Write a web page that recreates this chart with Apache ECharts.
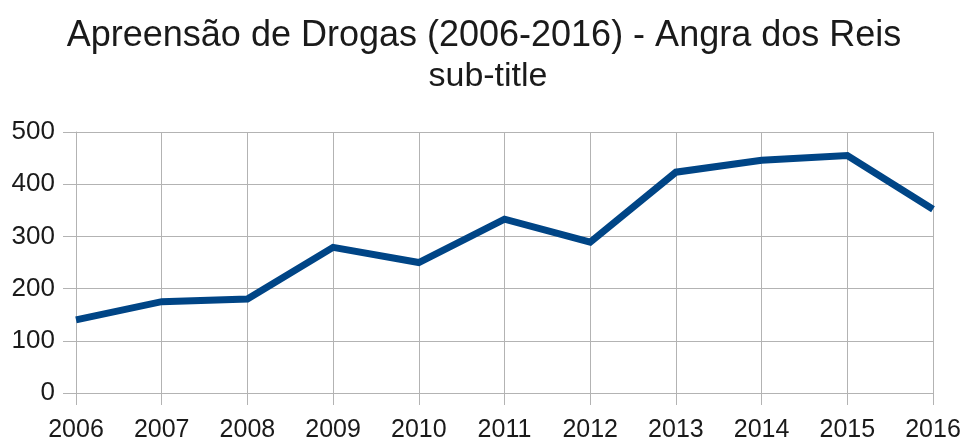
<!DOCTYPE html>
<html>
<head>
<meta charset="utf-8">
<script src="https://cdn.jsdelivr.net/npm/echarts@6/dist/echarts.min.js"></script>
<style>html,body{margin:0;padding:0;background:#fff}#c{width:968px;height:445px}</style>
</head>
<body>
<div id="c"></div>
<script>
var years = ['2006','2007','2008','2009','2010','2011','2012','2013','2014','2015','2016'];
var seizures = [140, 175, 180, 279, 250, 333, 289, 423, 446, 455, 352];
var yTicks = {min: 0, max: 500, interval: 100};
var titleText = 'Apreensão de Drogas (2006-2016) - Angra dos Reis';
var subtitleText = 'sub-title';

var chart = echarts.init(document.getElementById('c'), null, {renderer: 'canvas'});
chart.setOption({
  animation: false,
  backgroundColor: '#ffffff',
  title: [{
    text: titleText,
    left: 'center',
    top: 13,
    textStyle: {fontFamily: 'Liberation Sans', fontSize: 36, fontWeight: 'normal', color: '#1a1a1a'}
  }, {
    text: subtitleText,
    left: 483,
    textAlign: 'center',
    top: 55,
    textStyle: {fontFamily: 'Liberation Sans', fontSize: 34, fontWeight: 'normal', color: '#1a1a1a'}
  }],
  grid: {left: 76, right: 35, top: 132, bottom: 52},
  xAxis: {
    type: 'category',
    data: years,
    boundaryGap: false,
    axisLine: {show: true, onZero: false, lineStyle: {color: '#b3b3b3', width: 1}},
    axisTick: {show: true, inside: false, interval: 0, length: 12, lineStyle: {color: '#b3b3b3', width: 1}},
    axisLabel: {fontFamily: 'Liberation Sans', fontSize: 25, color: '#1a1a1a', margin: 25},
    splitLine: {show: true, lineStyle: {color: '#b3b3b3', width: 1}}
  },
  yAxis: {
    type: 'value',
    min: yTicks.min, max: yTicks.max, interval: yTicks.interval,
    axisLine: {show: true, onZero: false, lineStyle: {color: '#b3b3b3', width: 1}},
    axisTick: {show: true, inside: false, length: 13, lineStyle: {color: '#b3b3b3', width: 1}},
    axisLabel: {fontFamily: 'Liberation Sans', fontSize: 26, color: '#1a1a1a', margin: 21},
    splitLine: {show: true, lineStyle: {color: '#b3b3b3', width: 1}}
  },
  series: [{
    type: 'line',
    data: seizures,
    symbol: 'none',
    lineStyle: {color: '#004586', width: 7, join: 'miter'},
    itemStyle: {color: '#004586'}
  }]
});
</script>
</body>
</html>
